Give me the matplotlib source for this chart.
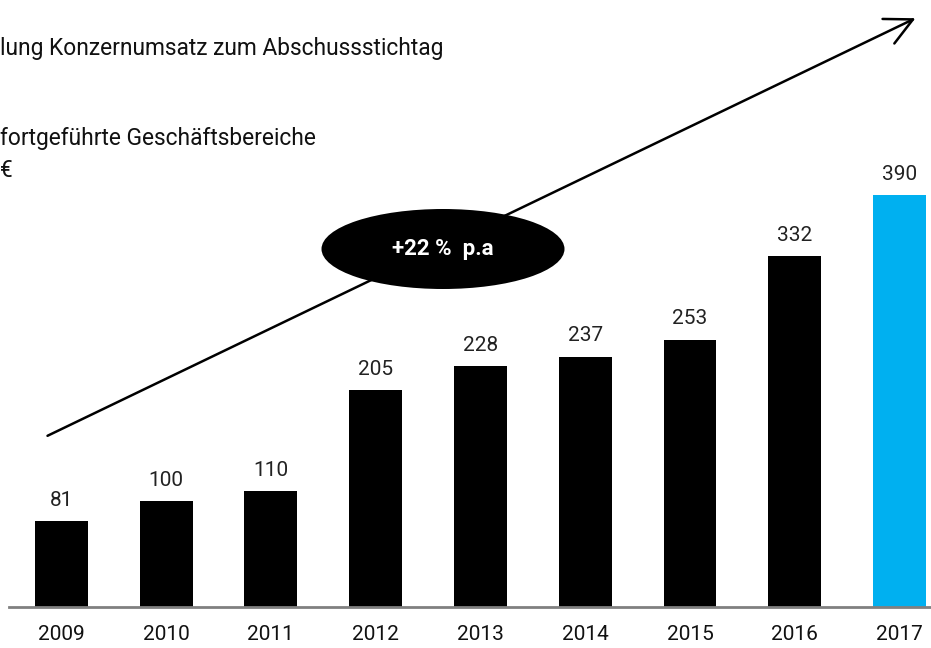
import matplotlib.pyplot as plt
from matplotlib.patches import Ellipse, FancyArrowPatch

plt.rcParams['font.family'] = ['Roboto', 'DejaVu Sans']

years = ['2009', '2010', '2011', '2012', '2013', '2014', '2015', '2016', '2017']
revenue = [81, 100, 110, 205, 228, 237, 253, 332, 390]
colors = ['black'] * 8 + ['#00B0F0']

W, H = 931, 648
fig = plt.figure(figsize=(W / 100, H / 100), dpi=100)

# axes: baseline at y=607 px, 390 at y=195 px
left, right = 9 / W, 1.0
bottom, top = 1 - 607 / H, 1 - 195 / H
ax = fig.add_axes([left, bottom, right - left, top - bottom])
x = list(range(len(years)))
ax.bar(x, revenue, width=0.505, color=colors)
ax.set_xlim(-0.5, 8.3)
ax.set_ylim(0, 390)
for s in ['top', 'right', 'left']:
    ax.spines[s].set_visible(False)
ax.spines['bottom'].set_color('#808080')
ax.spines['bottom'].set_linewidth(2)
ax.set_yticks([])
ax.set_xticks(x)
ax.set_xticklabels(years, fontsize=15, color='#111111')
ax.tick_params(axis='x', length=0, pad=13)

for xi, v in zip(x, revenue):
    ax.annotate(str(v), (xi, v), xytext=(0, 11), textcoords='offset points',
                ha='center', va='baseline', fontsize=15, color='#222222')

# titles (the reference is cropped at its left edge)
fig.text(0, 1 - 48 / H, 'lung Konzernumsatz zum Abschussstichtag',
         ha='left', va='center', fontsize=16.4, color='#111111')
fig.text(0, 1 - 138 / H, 'fortgeführte Geschäftsbereiche',
         ha='left', va='center', fontsize=16.4, color='#111111')
fig.text(0, 1 - 171 / H, '€',
         ha='left', va='center', fontsize=16.4, color='#111111')

# growth arrow
fig.patches.append(FancyArrowPatch(
    (45 / W, 1 - 437 / H), (918 / W, 1 - 17 / H), transform=fig.transFigure,
    arrowstyle='->,head_length=0.7,head_width=0.35', mutation_scale=28,
    lw=1.8, color='black'))

fig.patches.append(Ellipse((443 / W, 1 - 249 / H), 243 / W, 80 / H,
                           transform=fig.transFigure, facecolor='black',
                           edgecolor='none', zorder=5))
fig.text(443 / W, 1 - 249 / H, '+22 %  p.a', ha='center', va='center',
         fontsize=16, fontweight='bold', color='white', zorder=6)

fig.savefig('out.png', dpi=100)
